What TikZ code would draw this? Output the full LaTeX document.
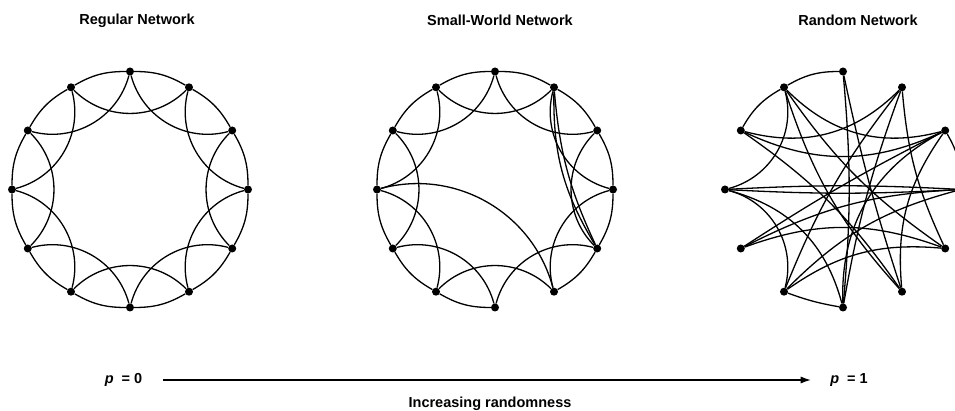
\documentclass[tikz,border=0pt]{standalone}
\usepackage{fontspec}
\setmainfont{Liberation Sans}
\usetikzlibrary{arrows.meta}

\begin{document}
\begin{tikzpicture}[x=1pt,y=1pt,font=\fontsize{14.5}{17}\selectfont\bfseries,
  dot/.style={circle,fill=black,inner sep=0pt,minimum size=8pt},
  link/.style={line width=1.3pt}]
\useasboundingbox (0,0) rectangle (955,411);
% regular ring, p = 0
\begin{scope}[shift={(130,221.5)}]
\foreach \i in {0,...,11} {\node[dot] (R\i) at ({90-30*\i}:118) {};}
\foreach \i in {0,...,11} {
  \pgfmathtruncatemacro\j{mod(\i+1,12)}
  \pgfmathtruncatemacro\k{mod(\i+2,12)}
  \draw[link] (R\i) to[bend left=15] (R\j);
  \draw[link] (R\i) to[bend right=45] (R\k);
}
\end{scope}
% small world, a few links rewired
\begin{scope}[shift={(495,221.5)}]
\foreach \i in {0,...,11} {\node[dot] (S\i) at ({90-30*\i}:118) {};}
\foreach \i in {0,...,11} {
  \pgfmathtruncatemacro\j{mod(\i+1,12)}
  \pgfmathtruncatemacro\k{mod(\i+2,12)}
  \ifnum\i=5\else\draw[link] (S\i) to[bend left=15] (S\j);\fi
  \draw[link] (S\i) to[bend right=45] (S\k);
}
\draw[link] (S9) to[bend left=45] (S5);
\draw[link] (S1) to[bend right=10] (S4);
\draw[link] (S1) to[bend right=16] (S4);
\end{scope}
% random, p = 1
\begin{scope}[shift={(843,221.5)}]
\foreach \i in {0,...,11} {\node[dot] (N\i) at ({90-30*\i}:118) {};}
\foreach \a/\b/\s in {0/11/15,11/10/15,3/2/15,7/6/5,9/11/45,11/2/30,11/4/10,11/5/12,
  10/1/30,10/2/25,5/10/10,6/0/5,0/5/3,1/4/10,1/7/8,1/6/5,2/5/20,2/6/32,2/8/3,
  3/9/3,9/3/3,6/9/30,7/9/45,4/8/20,3/8/12,4/7/20,3/7/15}
  {\draw[link] (N\a) to[bend right=\s] (N\b);}
\end{scope}
% titles
\node (tR) at (137,390.5) {Regular Network};
\node (tS) at (500,391) {Small-World Network};
\node (tN) at (858,390.5) {Random Network};
% p axis
\node (p0) at (123.5,31) {\textit{p}\ \ = 0};
\node (p1) at (849,31) {\textit{p}\ \ = 1};
\draw[line width=1.1pt,-{Latex[length=10pt,width=7pt]},shorten <=17pt,shorten >=16pt] (p0) -- (p1);
\node (incr) at (490,7) {Increasing randomness};
\end{tikzpicture}
\end{document}
